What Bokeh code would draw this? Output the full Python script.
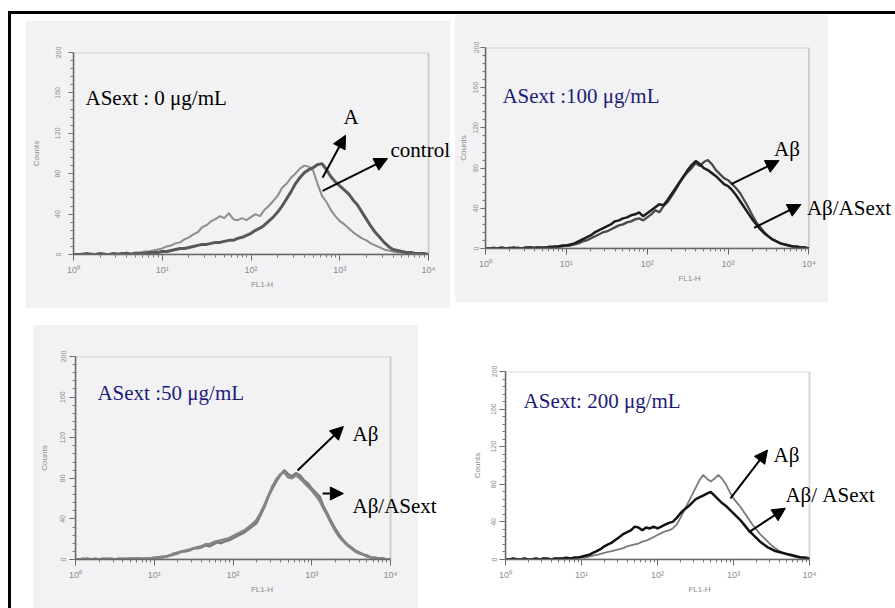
from bokeh.plotting import figure
from bokeh.layouts import column, row
from bokeh.models import (Range1d, FixedTicker, Label, Arrow, NormalHead, Div,
                          BoxAnnotation)
from bokeh.embed import file_html
from bokeh.resources import INLINE

# ---------------- data ----------------
# FL1-H channels, 0.05-decade bins from 10^0 to 10^4
fl1_exponents = [i / 20 for i in range(81)]
fl1_h = [10 ** e for e in fl1_exponents]

x_tick_values = [1, 10, 100, 1000, 10000]
x_tick_labels = ["10\u2070", "10\u00b9", "10\u00b2", "10\u00b3", "10\u2074"]
y_tick_values = [0, 40, 80, 120, 160, 200]

panel_titles = ["ASext : 0 \u03bcg/mL", "ASext :100 \u03bcg/mL",
                "ASext :50 \u03bcg/mL", "ASext: 200 \u03bcg/mL"]

# Panel 1 : ASext 0 ug/mL
p1_a = [0, 0, 1, 0, 1, 0, 1, 1, 0, 1, 1, 1, 2, 1, 2, 2, 3, 3, 4, 5,
        6, 8, 9, 11, 12, 15, 17, 20, 22, 27, 29, 33, 35, 38, 36, 41, 35, 34, 36, 34,
        37, 40, 38, 44, 48, 53, 58, 66, 70, 76, 80, 85, 88, 87, 83, 70, 58, 52, 44, 38,
        33, 30, 26, 22, 19, 16, 14, 11, 9, 7, 5, 4, 3, 2, 2, 1, 1, 0, 1, 0,
        0]
p1_control = [0, 0, 0, 1, 0, 0, 1, 0, 0, 1, 0, 1, 1, 0, 1, 1, 1, 2, 2, 2,
              3, 3, 4, 5, 6, 6, 7, 8, 9, 10, 10, 11, 12, 12, 13, 14, 14, 16, 17, 19,
              21, 24, 26, 29, 33, 37, 42, 48, 55, 62, 70, 76, 81, 84, 86, 89, 90, 84, 77, 72,
              68, 64, 60, 54, 49, 42, 35, 28, 22, 17, 12, 8, 5, 4, 3, 2, 2, 1, 1, 1,
              0]

# Panel 2 : ASext 100 ug/mL
p2_abeta = [0, 0, 1, 0, 0, 0, 1, 0, 1, 0, 0, 1, 1, 1, 0, 1, 2, 1, 2, 2,
            3, 3, 4, 5, 7, 8, 10, 12, 14, 16, 17, 19, 21, 23, 24, 26, 27, 29, 30, 28,
            31, 34, 38, 36, 42, 46, 52, 58, 65, 71, 76, 80, 85, 82, 86, 88, 84, 78, 74, 70,
            68, 64, 60, 55, 48, 41, 33, 26, 21, 16, 12, 9, 7, 5, 4, 3, 2, 1, 1, 1,
            0]
p2_abeta_asext = [0, 0, 0, 0, 1, 0, 0, 1, 0, 0, 1, 1, 0, 1, 1, 1, 1, 2, 2, 3,
                  3, 4, 5, 7, 9, 11, 13, 16, 18, 20, 22, 24, 27, 28, 30, 31, 33, 34, 36, 32,
                  35, 38, 41, 44, 43, 48, 54, 60, 66, 72, 78, 83, 87, 84, 80, 78, 75, 72, 68, 64,
                  62, 58, 53, 47, 41, 35, 29, 24, 19, 15, 12, 9, 7, 5, 4, 3, 2, 2, 1, 1,
                  0]

# Panel 3 : ASext 50 ug/mL
p3_abeta = [0, 0, 0, 1, 0, 0, 0, 1, 0, 1, 0, 0, 1, 0, 1, 1, 1, 0, 1, 1,
            1, 2, 2, 3, 4, 5, 6, 8, 8, 9, 11, 11, 12, 14, 13, 15, 17, 16, 18, 19,
            21, 23, 25, 27, 30, 33, 36, 44, 52, 62, 70, 77, 83, 88, 84, 82, 85, 83, 78, 75,
            70, 66, 62, 52, 45, 37, 30, 24, 19, 15, 12, 9, 7, 5, 4, 2, 2, 1, 1, 0,
            0]
p3_abeta_asext = [0, 0, 1, 0, 0, 1, 0, 0, 1, 0, 0, 1, 0, 1, 1, 0, 1, 1, 1, 1,
                  2, 2, 3, 3, 4, 6, 7, 8, 9, 10, 11, 12, 13, 15, 15, 17, 18, 19, 20, 21,
                  23, 25, 27, 29, 32, 35, 39, 46, 54, 63, 72, 79, 84, 86, 81, 80, 83, 80, 76, 72,
                  68, 63, 58, 50, 43, 35, 28, 22, 18, 14, 11, 8, 6, 5, 3, 2, 1, 1, 1, 0,
                  0]

# Panel 4 : ASext 200 ug/mL
p4_abeta = [0, 0, 0, 1, 0, 0, 0, 1, 0, 0, 1, 0, 0, 1, 1, 0, 1, 1, 1, 2,
            2, 2, 3, 4, 5, 6, 7, 8, 9, 10, 11, 12, 14, 15, 16, 17, 19, 20, 22, 24,
            26, 28, 30, 31, 33, 37, 44, 52, 60, 68, 76, 84, 90, 86, 83, 86, 90, 86, 80, 72,
            65, 60, 55, 49, 43, 37, 32, 27, 23, 19, 15, 12, 9, 7, 5, 4, 3, 2, 1, 1,
            0]
p4_abeta_asext = [0, 0, 1, 0, 0, 1, 0, 0, 1, 0, 1, 1, 0, 1, 1, 1, 2, 1, 2, 2,
                  3, 4, 5, 7, 9, 11, 14, 16, 18, 21, 24, 27, 29, 31, 35, 34, 31, 34, 33, 35,
                  33, 35, 37, 39, 40, 44, 49, 53, 56, 60, 64, 66, 68, 70, 72, 68, 64, 60, 57, 53,
                  49, 45, 41, 36, 31, 27, 23, 19, 16, 13, 11, 9, 8, 7, 6, 5, 4, 3, 2, 2,
                  1]

# ---------------- styling helpers ----------------
GREY_BG = "#f2f2f4"
NAVY = "#1c1c78"
SERIF = "Liberation Serif"
AXIS_GREY = "#8a8a8a"
FRAME_GREY = "#7a7a7a"

minor_x = [m * 10 ** k for k in range(4) for m in range(2, 10)]
minor_y = list(range(0, 201, 8))


def make_panel(w, h, bl, br, bt, bb, margin, px_per_decade,
               y_tick_out, y_standoff, y_label_standoff):
    frame_w = w - bl - br
    x_end = 10 ** (frame_w / px_per_decade)   # room right of 10^4 for the labels
    p = figure(width=w, height=h, x_axis_type="log",
               x_range=Range1d(1, x_end), y_range=Range1d(0, 200),
               output_backend="svg", toolbar_location=None,
               min_border_left=bl, min_border_right=br,
               min_border_top=bt, min_border_bottom=bb, margin=margin)
    p.grid.visible = False
    p.outline_line_color = None
    # plot box from 10^0 to 10^4
    p.add_layout(BoxAnnotation(left=1, right=10000, bottom=0, top=200,
                               fill_alpha=0, line_color=FRAME_GREY, line_width=2))

    xa = p.xaxis[0]
    xa.bounds = (1, 10000)
    xa.ticker = FixedTicker(ticks=x_tick_values, minor_ticks=minor_x)
    xa.major_label_overrides = dict(zip(x_tick_values, x_tick_labels))
    xa.axis_label = "FL1-H"
    ya = p.yaxis[0]
    ya.ticker = FixedTicker(ticks=y_tick_values, minor_ticks=minor_y)
    ya.axis_label = "Counts"
    ya.major_label_orientation = "vertical"
    for ax in (xa, ya):
        ax.axis_line_color = "#666666"
        ax.axis_line_width = 1.5
        ax.major_tick_line_color = "#666666"
        ax.minor_tick_line_color = "#777777"
        ax.major_tick_in = 0
        ax.minor_tick_in = 0
        ax.major_label_text_color = AXIS_GREY
        ax.major_label_text_font = "Liberation Sans"
        ax.axis_label_text_color = AXIS_GREY
        ax.axis_label_text_font = "Liberation Sans"
        ax.axis_label_text_font_style = "normal"
    xa.major_tick_out = 6
    xa.minor_tick_out = 3
    xa.major_label_standoff = 4
    xa.major_label_text_font_size = "9px"
    xa.axis_label_text_font_size = "8px"
    xa.axis_label_standoff = 2
    ya.major_tick_out = y_tick_out
    ya.minor_tick_out = 3
    ya.major_label_standoff = y_standoff
    ya.major_label_text_font_size = "7px"
    ya.axis_label_text_font_size = "8px"
    ya.axis_label_standoff = y_label_standoff
    return p


def add_text(p, x, y, txt, color="black"):
    p.add_layout(Label(x=x, y=y, text=txt, text_font=SERIF, text_font_size="21px",
                       text_color=color, text_baseline="alphabetic"))


def add_arrow(p, x0, y0, x1, y1):
    p.add_layout(Arrow(end=NormalHead(size=13, fill_color="black", line_color="black"),
                       x_start=x0, y_start=y0, x_end=x1, y_end=y1,
                       line_color="black", line_width=2))


# ---------------- panel 1 ----------------
p1 = make_panel(425, 288, 48, 0, 32, 54, (6, 0, 0, 14), 88.75, 5, 8, 12)
p1.border_fill_color = GREY_BG
p1.background_fill_color = GREY_BG
p1.line(fl1_h, p1_a, line_color="#8e8e8e", line_width=2)
p1.line(fl1_h, p1_control, line_color="#585858", line_width=3)
add_text(p1, 1.365, 155, panel_titles[0])
add_text(p1, 1102, 136, "A")
add_text(p1, 3733, 103, "control")
add_arrow(p1, 640, 76, 1161, 118)
add_arrow(p1, 640, 63, 3451, 95)

# ---------------- panel 2 ----------------
p2 = make_panel(440, 287, 28, 2, 21, 51, (1, 0, 0, 5), 81.25, 5, 2, 3)
p2.border_fill_alpha = 0
p2.background_fill_alpha = 0
p2.styles = {"background": f"linear-gradient(to right, {GREY_BG} 373px, #ffffff 373px)"}
p2.line(fl1_h, p2_abeta, line_color="#4a4a4a", line_width=2.3)
p2.line(fl1_h, p2_abeta_asext, line_color="#1e1e1e", line_width=2.5)
add_text(p2, 1.62, 151.6, panel_titles[1], NAVY)
add_text(p2, 3700, 98.6, "A\u03b2")
add_text(p2, 9440, 40, "A\u03b2/ASext")
add_arrow(p2, 1096, 64, 4270, 87.4)
add_arrow(p2, 2100, 20.5, 7960, 43.7)

# ---------------- panel 3 ----------------
p3 = make_panel(417, 283, 42, 2, 31, 49, (17, 0, 0, 22), 78.75, 6, 4, 9)
p3.border_fill_alpha = 0
p3.background_fill_alpha = 0
p3.styles = {"background": f"linear-gradient(to right, {GREY_BG} 385px, #ffffff 385px)"}
p3.line(fl1_h, p3_abeta, line_color="#7a7a7a", line_width=2.5)
p3.line(fl1_h, p3_abeta_asext, line_color="#858585", line_width=2.5)
add_text(p3, 1.9, 164.5, panel_titles[2], NAVY)
add_text(p3, 3290, 124, "A\u03b2")
add_text(p3, 3290, 53, "A\u03b2/ASext")
add_arrow(p3, 660, 87.7, 2520, 131)
add_arrow(p3, 1374, 65, 2520, 65)

# ---------------- panel 4 ----------------
p4 = make_panel(435, 268, 45, 2, 31, 43, (32, 0, 0, 10), 76.0, 6, 3, 7)
p4.border_fill_color = "#ffffff"
p4.background_fill_color = "#ffffff"
p4.line(fl1_h, p4_abeta, line_color="#7a7a7a", line_width=1.8)
p4.line(fl1_h, p4_abeta_asext, line_color="#111111", line_width=2.5)
add_text(p4, 1.73, 169, panel_titles[3], NAVY)
add_text(p4, 3370, 111, "A\u03b2")
add_text(p4, 4820, 69, "A\u03b2/ ASext")
add_arrow(p4, 912, 65, 2800, 116.5)
add_arrow(p4, 1580, 28.9, 4820, 54.6)

# ---------------- layout ----------------
top_bar = Div(text="", width=887, height=3, margin=(11, 0, 0, 8),
              styles={"background-color": "#000000"})
left_bar = Div(text="", width=3, height=594, margin=(0, 0, 0, 8),
               styles={"background-color": "#000000"})
content = column(row(p1, p2), row(p3, p4))
root = column(top_bar, row(left_bar, content))

open("out.html", "w").write(file_html(root, INLINE))
